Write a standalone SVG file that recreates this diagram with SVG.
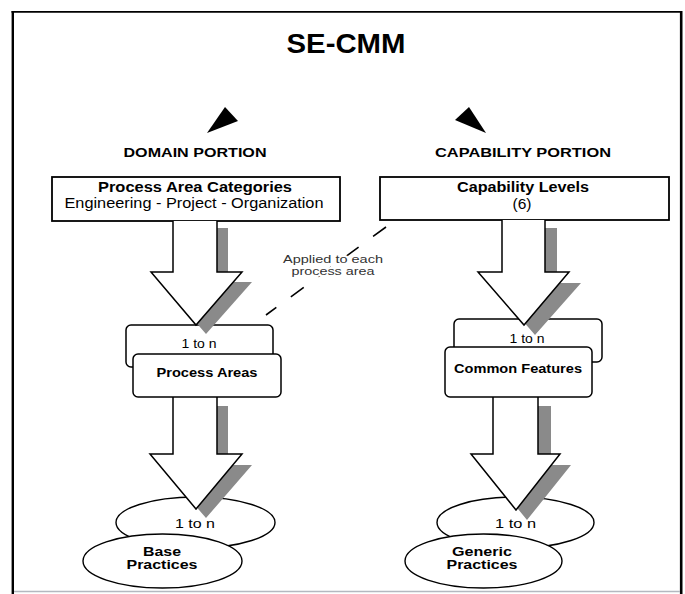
<svg xmlns="http://www.w3.org/2000/svg" width="685" height="594" viewBox="0 0 685 594">
  <style>
    text { font-family: "Liberation Sans", Arial, Helvetica, sans-serif; fill: #000; text-anchor: middle; }
    .b { font-weight: bold; }
    .box { fill: #fff; stroke: #000; stroke-width: 1.8; }
    .rbox { fill: #fff; stroke: #000; stroke-width: 1.5; }
    .ell { fill: #fff; stroke: #000; stroke-width: 1.4; }
    .shadow { fill: #8a8a8a; stroke: none; }
    .arrow { fill: #fff; stroke: #000; stroke-width: 1.5; stroke-linejoin: miter; }
    .head { fill: #000; stroke: none; }
    .dash { fill: none; stroke: #000; stroke-width: 1.6; stroke-dasharray: 16 18; }
    .note { fill: #333; stroke: #fff; stroke-width: 4; paint-order: stroke; stroke-linejoin: round; }
  </style>

  <!-- frame -->
  <rect x="0" y="0" width="685" height="594" fill="#fff"/>
  <line x1="11.5" y1="11.8" x2="682" y2="11.8" stroke="#000" stroke-width="1.8"/>
  <line x1="12.8" y1="11" x2="12.8" y2="594" stroke="#000" stroke-width="2.4"/>
  <line x1="681.2" y1="11" x2="681.2" y2="594" stroke="#000" stroke-width="2.6"/>
  <line x1="14" y1="591.5" x2="680" y2="591.5" stroke="#b4b8c0" stroke-width="1.5"/>

  <!-- heading -->
  <g id="title">
    <text class="b" x="346" y="53" font-size="28" textLength="119" lengthAdjust="spacingAndGlyphs">SE-CMM</text>
  </g>
  <g id="domain-portion">
    <text class="b" x="195" y="157" font-size="12.5" textLength="143" lengthAdjust="spacingAndGlyphs">DOMAIN PORTION</text>
  </g>
  <g id="capability-portion">
    <text class="b" x="523" y="157" font-size="12.5" textLength="176" lengthAdjust="spacingAndGlyphs">CAPABILITY PORTION</text>
  </g>

  <!-- top-level boxes -->
  <g id="process-area-categories">
    <rect class="box" x="52" y="177" width="288" height="44"/>
    <text class="b" x="195" y="192" font-size="14" textLength="194" lengthAdjust="spacingAndGlyphs">Process Area Categories</text>
    <text x="194" y="208" font-size="14" textLength="259" lengthAdjust="spacingAndGlyphs">Engineering - Project - Organization</text>
  </g>
  <g id="capability-levels">
    <rect class="box" x="380" y="177" width="289" height="43"/>
    <text class="b" x="523" y="192" font-size="14" textLength="132" lengthAdjust="spacingAndGlyphs">Capability Levels</text>
    <text x="522" y="209" font-size="14" textLength="19" lengthAdjust="spacingAndGlyphs">(6)</text>
  </g>

  <!-- back layers of the stacked nodes -->
  <g id="process-areas-multiplicity">
    <rect class="rbox" x="126" y="325" width="147" height="42" rx="5"/>
    <text x="199" y="348" font-size="12" textLength="35" lengthAdjust="spacingAndGlyphs">1 to n</text>
  </g>
  <g id="common-features-multiplicity">
    <rect class="rbox" x="454" y="319" width="148" height="43" rx="5"/>
    <text x="527" y="343" font-size="12" textLength="35" lengthAdjust="spacingAndGlyphs">1 to n</text>
  </g>
  <g id="base-practices-multiplicity">
    <ellipse class="ell" cx="195.5" cy="522.5" rx="79.5" ry="25.5"/>
    <text x="195" y="528" font-size="13.5" textLength="40" lengthAdjust="spacingAndGlyphs">1 to n</text>
  </g>
  <g id="generic-practices-multiplicity">
    <ellipse class="ell" cx="515.5" cy="522.5" rx="78.5" ry="25.5"/>
    <text x="515.5" y="528" font-size="13.5" textLength="41" lengthAdjust="spacingAndGlyphs">1 to n</text>
  </g>

  <!-- connectors -->
  <g id="connectors">
    <!-- arrowheads pointing up to the model title -->
    <polygon class="head" points="225,107 238,121 207,133"/>
    <polygon class="head" points="469,107 455,120 486,133"/>

    <!-- domain: categories to process areas -->
    <path class="shadow" d="M183,228 V282 H161 L206,334 L252,282 H228 V228 Z"/>
    <path class="arrow" d="M173,221 V272 H151 L196,325 L242,272 H217 V221"/>
    <!-- domain: process areas to base practices -->
    <path class="shadow" d="M183,406 V465 H160 L206,518 L252,465 H228 V406 Z"/>
    <path class="arrow" d="M173,397 V454 H150 L196,509 L242,454 H217 V397"/>

    <!-- capability: levels to common features -->
    <path class="shadow" d="M514,228 V283 H490 L535,335 L581,283 H557 V228 Z"/>
    <path class="arrow" d="M502,220 V272 H478 L524,325 L569,272 H545 V220"/>
    <!-- capability: common features to generic practices -->
    <path class="shadow" d="M505,406 V465 H482 L527,520 L571,465 H551 V406 Z"/>
    <path class="arrow" d="M493,397 V454 H471 L516,510 L560,454 H538 V397"/>

    <!-- capability levels applied to each process area -->
    <line class="dash" x1="386" y1="227" x2="266" y2="315"/>
    <text class="note" x="333" y="262.5" font-size="11.5" textLength="100" lengthAdjust="spacingAndGlyphs">Applied to each</text>
    <text class="note" x="333" y="275" font-size="10.5" textLength="83" lengthAdjust="spacingAndGlyphs">process area</text>
  </g>

  <!-- front layers of the stacked nodes -->
  <g id="process-areas">
    <rect class="rbox" x="133" y="354" width="148" height="43" rx="5"/>
    <text class="b" x="207" y="377" font-size="12" textLength="101" lengthAdjust="spacingAndGlyphs">Process Areas</text>
  </g>
  <g id="common-features">
    <rect class="rbox" x="445" y="347" width="147" height="50" rx="5"/>
    <text class="b" x="518" y="373" font-size="12" textLength="128" lengthAdjust="spacingAndGlyphs">Common Features</text>
  </g>
  <g id="base-practices">
    <ellipse class="ell" cx="162.5" cy="561" rx="79.5" ry="27"/>
    <text class="b" x="162" y="555.5" font-size="12" textLength="38" lengthAdjust="spacingAndGlyphs">Base</text>
    <text class="b" x="162" y="569" font-size="12" textLength="71" lengthAdjust="spacingAndGlyphs">Practices</text>
  </g>
  <g id="generic-practices">
    <ellipse class="ell" cx="483.5" cy="561" rx="78.5" ry="27"/>
    <text class="b" x="482" y="555.5" font-size="12" textLength="60" lengthAdjust="spacingAndGlyphs">Generic</text>
    <text class="b" x="482" y="569" font-size="12" textLength="71" lengthAdjust="spacingAndGlyphs">Practices</text>
  </g>
</svg>
